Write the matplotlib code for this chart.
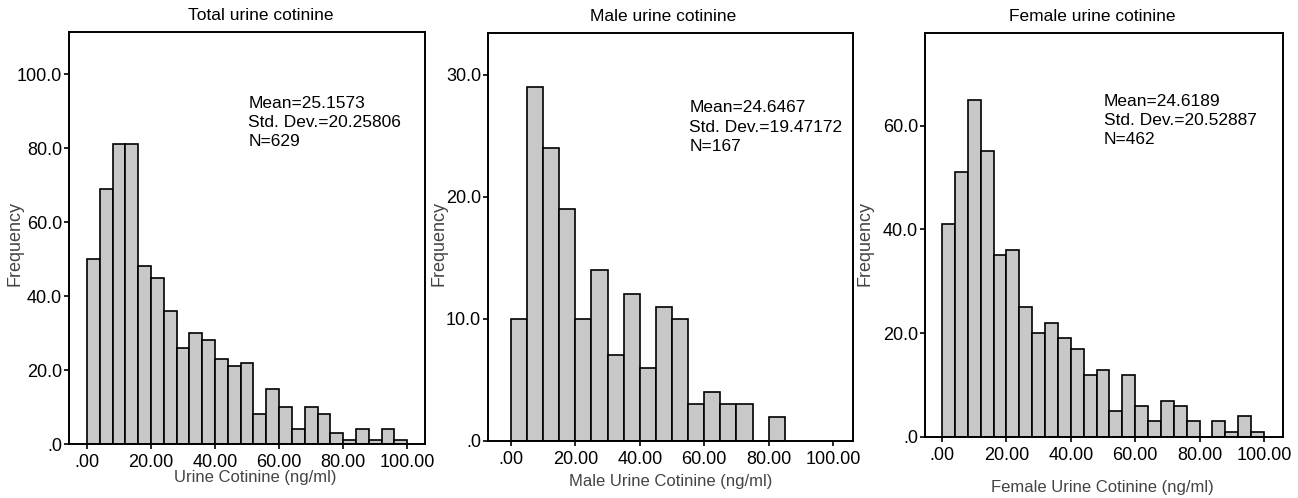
import numpy as np
import matplotlib
matplotlib.use("Agg")
import matplotlib.pyplot as plt

plt.rcParams['font.family'] = ['Liberation Sans', 'DejaVu Sans']

# histogram counts
total_counts = [50, 69, 81, 81, 48, 45, 36, 26, 30, 28, 23, 21, 22,
                8, 15, 10, 4, 10, 8, 3, 1, 4, 1, 4, 1]
male_counts = [10, 29, 24, 19, 10, 14, 7, 12, 6, 11, 10, 3, 4, 3, 3, 0, 2]
female_counts = [41, 51, 65, 55, 35, 36, 25, 20, 22, 19, 17, 12, 13,
                 5, 12, 6, 3, 7, 6, 3, 0, 3, 1, 4, 1]

titles = ["Total urine cotinine", "Male urine cotinine", "Female urine cotinine"]
xlabels = ["Urine Cotinine (ng/ml)", "Male Urine Cotinine (ng/ml)",
           "Female Urine Cotinine (ng/ml)"]
stats = ["Mean=25.1573\nStd. Dev.=20.25806\nN=629",
         "Mean=24.6467\nStd. Dev.=19.47172\nN=167",
         "Mean=24.6189\nStd. Dev.=20.52887\nN=462"]
xticks = [0, 20, 40, 60, 80, 100]
xticklabels = [".00", "20.00", "40.00", "60.00", "80.00", "100.00"]
yticks_total = [0, 20, 40, 60, 80, 100]
yticks_male = [0, 10, 20, 30]
yticks_female = [0, 20, 40, 60]

panels = [
    dict(counts=total_counts, width=4, yticks=yticks_total,
         rect=[0.0532, 0.1084, 0.2743, 0.8273], xlim=(-5.6, 105.6), ylim=(0, 111.4),
         title_x=0.539, text_xy=(0.503, 0.845), ylab_x=15, xlab_dx=8, xlab_y=477),
    dict(counts=male_counts, width=5, yticks=yticks_male,
         rect=[0.3760, 0.1145, 0.2812, 0.8190], xlim=(-7.1, 106.2), ylim=(0, 33.4),
         title_x=0.479, text_xy=(0.551, 0.835), ylab_x=439, xlab_dx=0, xlab_y=481),
    dict(counts=female_counts, width=4, yticks=yticks_female,
         rect=[0.7126, 0.1225, 0.2758, 0.8110], xlim=(-5.3, 105.9), ylim=(0, 77.8),
         title_x=0.466, text_xy=(0.50, 0.85), ylab_x=865, xlab_dx=-2, xlab_y=487),
]

W, H = 1298, 498
fig = plt.figure(figsize=(W / 100, H / 100), dpi=100)

for i, p in enumerate(panels):
    ax = fig.add_axes(p["rect"])
    counts = np.array(p["counts"])
    lefts = np.arange(len(counts)) * p["width"]
    ax.bar(lefts, counts, width=p["width"], align="edge",
           color="#c8c8c8", edgecolor="black", linewidth=1.2)
    ax.set_xlim(*p["xlim"])
    ax.set_ylim(*p["ylim"])
    ax.set_xticks(xticks)
    ax.set_xticklabels(xticklabels)
    ax.set_yticks(p["yticks"])
    ax.set_yticklabels([".0"] + ["%.1f" % v for v in p["yticks"][1:]])
    ax.tick_params(axis="both", direction="out", length=3.5, width=1.2,
                   labelsize=13, colors="black")
    ax.tick_params(axis="x", pad=4)
    ax.tick_params(axis="y", pad=1.5)
    for s in ax.spines.values():
        s.set_linewidth(1.4)
    ax.text(p["title_x"], 1 + 17 / (p["rect"][3] * H), titles[i],
            transform=ax.transAxes, ha="center", va="center", fontsize=12.5)
    ax.text(p["text_xy"][0], p["text_xy"][1], stats[i], transform=ax.transAxes,
            ha="left", va="top", fontsize=12.5, linespacing=1.35)
    # axis labels placed in figure pixels
    x0 = p["rect"][0] + p["rect"][2] / 2
    fig.text(x0 + p["xlab_dx"] / W, 1 - p["xlab_y"] / H, xlabels[i],
             ha="center", va="center", fontsize=12, color="#444444")
    fig.text(p["ylab_x"] / W, 1 - 243 / H, "Frequency", rotation=90,
             ha="center", va="center", fontsize=13, color="#444444")

fig.savefig("out.png", dpi=100)
